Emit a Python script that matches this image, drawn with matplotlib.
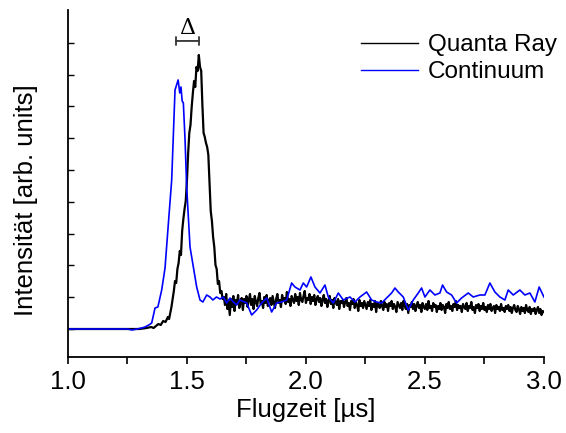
import numpy as np
import matplotlib
matplotlib.use("Agg")
import matplotlib.pyplot as plt

plt.rcParams['font.family'] = ['Liberation Sans', 'DejaVu Sans']

# Quanta Ray: peak region (time in µs, intensity arb.)
qr_peak_t = [1.00, 1.30, 1.33, 1.35, 1.36, 1.37, 1.38, 1.39, 1.40, 1.41, 1.42, 1.425,
             1.43, 1.435, 1.44, 1.445, 1.45, 1.455, 1.46, 1.465, 1.47, 1.475, 1.48,
             1.485, 1.49, 1.495, 1.50, 1.505, 1.51, 1.515, 1.52, 1.525,
             1.53, 1.535, 1.54, 1.545, 1.55, 1.555, 1.56, 1.565, 1.57, 1.575, 1.58,
             1.585, 1.59, 1.595, 1.60, 1.605, 1.61, 1.615, 1.62, 1.625, 1.63, 1.635,
             1.64, 1.645, 1.65]
qr_peak_y = [0, 0, 1, 2, 1, 3, 5, 4, 8, 7, 12, 10,
             16, 22, 30, 38, 48, 46, 60, 66, 78, 74, 98,
             110, 120, 128, 148, 175, 196, 204, 222, 236,
             248, 242, 262, 258, 274, 262, 258, 224, 196, 192, 186, 182,
             174, 145, 118, 108, 92, 82, 64, 60, 45, 48,
             36, 38, 30]
# Quanta Ray: plateau sampled every 0.005 µs from 1.655 to 3.000
qr_tail_y = [32, 24, 35, 20, 28, 14, 30, 22, 33, 18, 29, 25, 34, 21, 27, 31, 19, 30, 26, 33,
             22, 29, 35, 24, 30, 20, 33, 27, 23, 31, 36, 25, 28, 21, 32, 26, 34, 23, 29, 31,
             24, 33, 27, 21, 30, 35, 26, 29, 22, 34, 28, 31, 25, 37, 27, 30, 23, 33, 29, 26,
             35, 28, 32, 24, 36, 29, 27, 33, 38, 26, 31, 29, 35, 25, 32, 28, 34, 24, 30, 33,
             27, 31, 23, 29, 34, 26, 30, 22, 28, 33, 25, 29, 21, 31, 27, 24, 30, 20, 28, 26,
             29, 22, 27, 31, 23, 26, 19, 28, 25, 30, 21, 27, 24, 18, 29, 23, 26, 21, 28, 24,
             20, 27, 23, 29, 19, 25, 22, 28, 17, 26, 24, 21, 28, 23, 19, 27, 22, 25, 18, 26,
             23, 28, 20, 25, 22, 17, 27, 24, 21, 26, 19, 28, 23, 20, 25, 16, 24, 22, 27, 20,
             25, 18, 23, 27, 21, 24, 17, 26, 22, 20, 25, 19, 28, 21, 23, 18, 26, 22, 24, 17,
             23, 20, 26, 19, 24, 22, 16, 25, 21, 27, 20, 23, 18, 25, 22, 28, 19, 24, 21, 23,
             17, 25, 22, 20, 26, 18, 23, 21, 27, 19, 22, 16, 24, 21, 25, 18, 23, 20, 26, 19,
             22, 17, 24, 20, 25, 18, 21, 23, 16, 24, 20, 22, 18, 25, 19, 21, 17, 23, 20, 24,
             18, 22, 16, 21, 24, 19, 17, 23, 20, 15, 22, 18, 21, 16, 24, 19, 17, 22, 15, 20,
             18, 21, 15, 19, 22, 16, 20, 14, 18, 17]
qr_tail_t = np.round(1.655 + 0.005 * np.arange(len(qr_tail_y)), 4)

# Continuum
cont_t = [1.00, 1.20, 1.25, 1.27, 1.29, 1.31, 1.3235, 1.34, 1.352, 1.366, 1.378,
          1.394, 1.408, 1.420, 1.436, 1.450, 1.463, 1.470, 1.475, 1.480, 1.485,
          1.492, 1.499, 1.513, 1.527, 1.541, 1.555, 1.567, 1.583, 1.597, 1.609,
          1.624, 1.639, 1.653, 1.667, 1.681, 1.695, 1.709,
          1.7227, 1.751, 1.772, 1.793, 1.814, 1.835, 1.856, 1.877, 1.898, 1.919,
          1.940, 1.954, 1.975, 1.989, 2.003, 2.021, 2.038, 2.059, 2.080, 2.094,
          2.115, 2.136, 2.157, 2.185, 2.206, 2.227, 2.255, 2.276, 2.297, 2.318,
          2.339, 2.360, 2.374, 2.388, 2.409, 2.430, 2.451, 2.472, 2.486, 2.500,
          2.521, 2.542, 2.563, 2.574, 2.591, 2.612, 2.633, 2.654, 2.682, 2.703,
          2.731, 2.752, 2.773, 2.794, 2.815, 2.836, 2.850, 2.871, 2.899, 2.920,
          2.941, 2.962, 2.980, 3.000]
cont_y = [0, 0, 0, -1, 0, 1, 2, 4, 6, 21, 22,
          39, 61, 99, 149, 239, 249, 236, 242, 228, 226,
          190, 142, 82, 62, 42, 29, 27, 34, 32, 29,
          32, 30, 32, 26, 31, 27, 24,
          29, 26, 14, 19, 26, 31, 17, 26, 27, 29,
          46, 42, 39, 46, 42, 52, 42, 36, 44, 32,
          26, 36, 29, 32, 27, 32, 37, 29, 27, 26,
          31, 36, 41, 37, 32, 19, 29, 36, 41, 32,
          39, 34, 36, 44, 37, 34, 26, 31, 36, 32,
          34, 34, 46, 37, 32, 29, 39, 34, 39, 34,
          36, 27, 42, 32]

delta_t = [1.454, 1.550]
delta_y = 288

fig = plt.figure(figsize=(5.66, 4.33), dpi=100)
ax = fig.add_axes([0.120, 0.1755, 0.841, 0.8015])

ax.plot(np.concatenate([qr_peak_t, qr_tail_t]), np.concatenate([qr_peak_y, qr_tail_y]),
        color='black', lw=1.6, label='Quanta Ray')
ax.plot(cont_t, cont_y, color='#0000ff', lw=1.2, label='Continuum')

ax.annotate('', xy=(delta_t[0], delta_y), xytext=(delta_t[1], delta_y),
            arrowprops=dict(arrowstyle='|-|,widthA=0.3,widthB=0.3', color='#333333', lw=1.3,
                            shrinkA=0, shrinkB=0))
ax.text(sum(delta_t) / 2, delta_y + 2, 'Δ', ha='center', va='bottom', fontsize=16,
        family=['DejaVu Serif'])

ax.set_xlim(1.0, 3.0)
ax.set_ylim(-28, 319)
ax.set_xticks([1.0, 1.5, 2.0, 2.5, 3.0])
ax.set_xticks([1.25, 1.75, 2.25, 2.75], minor=True)
ax.set_yticks(np.arange(0, 300, 31.8))
ax.set_yticklabels([])
ax.tick_params(axis='x', which='both', direction='out', length=5, width=1.2, labelsize=18.5, pad=4)
ax.tick_params(axis='y', direction='in', length=4, width=1.0)
for s in ['top', 'right']:
    ax.spines[s].set_visible(False)
for s in ['left', 'bottom']:
    ax.spines[s].set_linewidth(1.3)

ax.set_xlabel('Flugzeit [µs]', fontsize=18.5, labelpad=3)
ax.set_ylabel('Intensität [arb. units]', fontsize=18.5)
ax.yaxis.set_label_coords(-0.063, 0.452)

leg = fig.legend(loc='upper left', bbox_to_anchor=(0.638, 0.921), frameon=False, fontsize=17.5,
                 handlelength=2.35, handletextpad=0.4, labelspacing=0.2, borderaxespad=0.0,
                 borderpad=0.0)
for l in leg.get_lines():
    l.set_linewidth(1.0)

fig.savefig('out.png', dpi=100)
